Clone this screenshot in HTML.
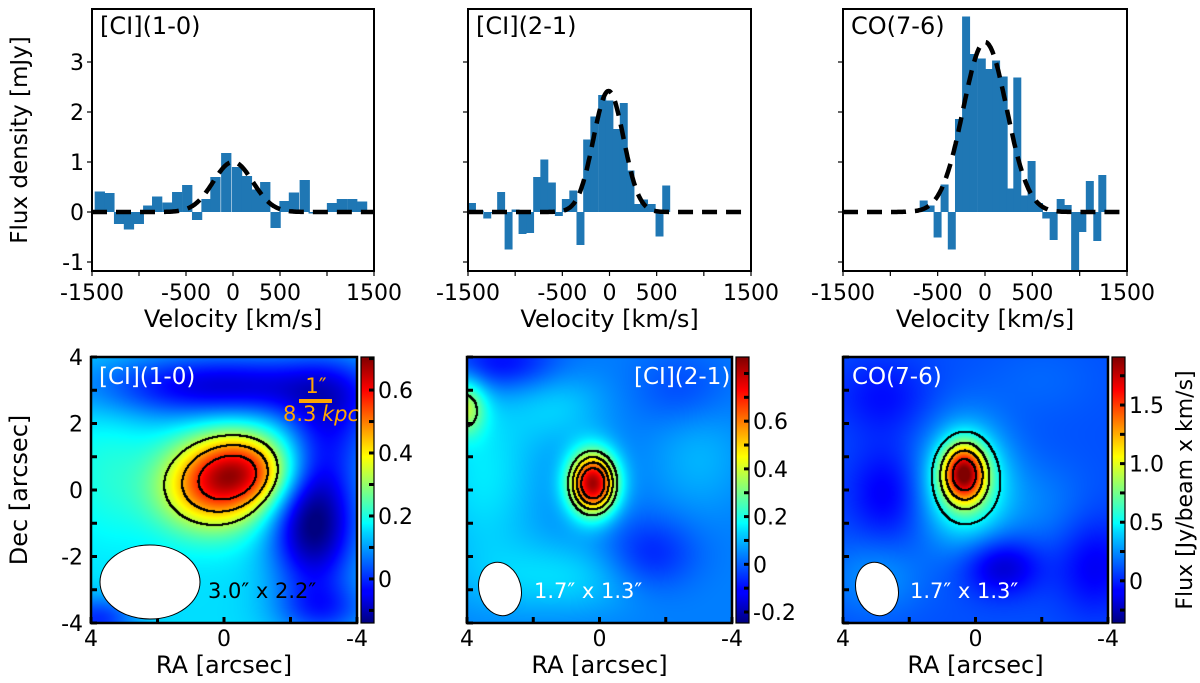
<!DOCTYPE html>
<html><head><meta charset="utf-8">
<style>
html,body{margin:0;padding:0;background:#fff;}
#wrap{position:relative;width:1200px;height:683px;overflow:hidden;font-family:"DejaVu Sans","Liberation Sans",sans-serif;}
canvas{position:absolute;}
svg{position:absolute;left:0;top:0;}
</style></head>
<body>
<div id="wrap">
<canvas id="m1" width="266" height="266" style="left:91px;top:357px"></canvas>
<canvas id="m2" width="265" height="266" style="left:467px;top:357px"></canvas>
<canvas id="m3" width="265" height="266" style="left:843px;top:357px"></canvas>
<svg id="svg" width="1200" height="683" xmlns="http://www.w3.org/2000/svg">
<defs>
<linearGradient id="jet" x1="0" y1="1" x2="0" y2="0">
<stop offset="0" stop-color="#00007f"/><stop offset="0.11" stop-color="#0000ff"/><stop offset="0.125" stop-color="#0000ff"/>
<stop offset="0.34" stop-color="#00d4ff"/><stop offset="0.375" stop-color="#0ff"/><stop offset="0.5" stop-color="#7fff7f"/>
<stop offset="0.625" stop-color="#ff0"/><stop offset="0.66" stop-color="#ffe000"/><stop offset="0.875" stop-color="#f00"/><stop offset="1" stop-color="#7f0000"/>
</linearGradient>
</defs>
</svg>
</div>
<script>
// ---------- spectra data ----------
const ci10Vel = [-1420,-1318,-1215,-1110,-1005,-905,-810,-700,-597,-490,-385,-285,-190,-75,40,145,245,340,450,545,645,760,855,945,1050,1155,1265,1370,1460];
const ci10Flux = [0.41,0.38,-0.24,-0.35,-0.24,0.13,0.31,0.19,0.4,0.54,-0.16,0.26,0.7,1.18,0.9,0.72,0.45,0.6,-0.32,0.22,0.39,0.64,-0.03,-0.03,0.18,0.26,0.26,0.21,0.0];
const ci21Vel = [-1461,-1378,-1299,-1228,-1152,-1073,-999,-925,-845,-770,-694,-614,-540,-466,-387,-311,-240,-164,-81,-4,72,148,219,289,363,444,527,598];
const ci21Flux = [0.18,0.03,-0.13,0,0.4,-0.75,0.05,-0.44,-0.42,0.7,1.05,0.59,-0.08,0.26,0.43,-0.66,1.45,1.91,2.34,2.23,1.66,2.18,0.83,0.16,0.25,0.16,-0.49,0.53];
const co76Vel = [-651,-578,-504,-430,-354,-278,-203,-120,-37,39,114,194,264,338,415,489,567,644,722,796,870,949,1025,1104,1183,1236];
const co76Flux = [0.23,0.13,-0.51,0.55,-0.75,1.86,3.91,3.16,3.07,2.86,3.03,2.71,0.47,2.69,0.33,1.02,0.18,-0.13,-0.56,0.26,0.14,-1.16,-0.4,0.62,-0.58,0.74];
const fitAmp = [1.0, 2.42, 3.4];
const fitCen = [0, -10, 0];
const fitSig = [210, 160, 230];
const velTicks = [-1500,-1000,-500,0,500,1000,1500];
const velTickLabels = ["-1500","","-500","0","500","","1500"];
const fluxTicks = [-1,0,1,2,3];
const lineNames = ["[CI](1-0)","[CI](2-1)","CO(7-6)"];

// ---------- map data: gaussian components [ra, dec, sigRA, sigDec, angleDeg, amp] ----------
const map1Base = 0.15;
const map1Comps = [[0.1,0.3,1.2,0.95,-15,0.47],[-1.0,0.6,0.9,0.7,0,0.14],[0.0,3.1,2.8,0.7,0,-0.22],[-2.7,-1.0,0.9,1.4,0,-0.3],[-3.2,2.2,1.0,1.2,0,-0.15],[3.8,-3.9,0.8,0.5,0,-0.15],[3.5,0.5,1.0,1.5,0,0.05],[-3.0,-3.6,1.0,0.6,0,-0.12]];
const map2Base = 0.03;
const map2Comps = [[0.2,0.2,0.5,0.65,0,0.8],[3.0,3.8,1.2,0.6,0,-0.15],[3.5,0.5,1.2,2.0,0,0.12],[1.0,-2.6,2.0,0.8,0,0.1],[-1.5,-2.0,1.0,0.8,0,-0.12],[1.2,2.5,1.0,0.8,0,0.08],[-3.0,1.0,1.0,1.2,0,0.06],[4.1,2.5,0.45,0.6,0,0.3],[-2.5,3.0,1.0,0.8,0,-0.06]];
const map3Base = 0.1;
const map3Comps = [[0.35,0.5,0.45,0.6,0,1.3],[0.3,0.2,0.9,1.2,0,0.6],[-0.8,-2.3,0.8,0.6,0,-0.3],[2.7,-0.1,0.8,1.0,0,-0.2],[2.8,2.8,1.0,0.8,0,-0.15],[-2.0,-0.5,1.0,1.0,0,0.1],[3.0,-2.6,1.0,0.8,0,0.15],[-3.6,-2.3,0.8,1.0,0,-0.2],[-2.0,3.3,1.2,0.8,0,0.05]];
const mapRange = [[-0.14,0.705],[-0.246,0.869],[-0.36,1.91]];
const mapLevels = [[0.33,0.45,0.57],[0.3,0.42,0.54,0.66],[0.5,0.85,1.2,1.6]];
const cbTicks = [[0,0.2,0.4,0.6],[-0.2,0,0.2,0.4,0.6],[0,0.5,1.0,1.5]];
const cbTickLabels = [["0","0.2","0.4","0.6"],["-0.2","0","0.2","0.4","0.6"],["0","0.5","1.0","1.5"]];
const cbMinorStep = [0.1,0.1,0.25];

const NS="http://www.w3.org/2000/svg";
const svg=document.getElementById('svg');
function el(tag,attrs,parent){const e=document.createElementNS(NS,tag);for(const k in attrs)e.setAttribute(k,attrs[k]);(parent||svg).appendChild(e);return e;}
function txt(s,x,y,attrs,parent){const t=el('text',Object.assign({x:x,y:y,'font-size':22,fill:'#000'},attrs||{}),parent);t.textContent=s;return t;}

// ---------- spectra ----------
const panelsX=[[92,374],[468,751],[843,1127]];
const pTop=9,pBot=271,yMin=-1.18,yMax=4.06;
const vels=[ci10Vel,ci21Vel,co76Vel], fluxes=[ci10Flux,ci21Flux,co76Flux], widths=[103,78,78];
for(let p=0;p<3;p++){
  const [x0,x1]=panelsX[p];
  const X=v=>x0+(v+1500)/3000*(x1-x0);
  const Y=f=>pBot-(f-yMin)/(yMax-yMin)*(pBot-pTop);
  const g=el('g',{});
  
  
  const clip=el('clipPath',{id:'cp'+p},g);el('rect',{x:x0,y:pTop,width:x1-x0,height:pBot-pTop},clip);
  const bars=el('g',{'clip-path':'url(#cp'+p+')'},g);
  for(let i=0;i<vels[p].length;i++){
    const a=X(vels[p][i]-widths[p]/2),b=X(vels[p][i]+widths[p]/2);
    const y0=Y(0),y1=Y(fluxes[p][i]);
    const r=el('rect',{x:a,y:Math.min(y0,y1),width:b-a+0.6,height:Math.max(1.2,Math.abs(y1-y0)),fill:'#1f77b4'},bars);
    
    
  }
  let d='';
  for(let v=-1500;v<=1500;v+=10){const f=fitAmp[p]*Math.exp(-Math.pow(v-fitCen[p],2)/(2*fitSig[p]*fitSig[p]));d+=(v==-1500?'M':'L')+X(v).toFixed(1)+','+Y(f).toFixed(1);}
  const fl=el('path',{d:d,fill:'none',stroke:'#000','stroke-width':4.5,'stroke-dasharray':'15,9'},bars);
  
  
  el('rect',{x:x0,y:pTop,width:x1-x0,height:pBot-pTop,fill:'none',stroke:'#000','stroke-width':2},g);
  velTicks.forEach((v,i)=>{el('line',{x1:X(v),x2:X(v),y1:pBot,y2:pBot+5,stroke:'#000','stroke-width':1.2},g);
    if(velTickLabels[i]){const t=txt(velTickLabels[i],X(v),300,{'text-anchor':'middle'},g);}});
  fluxTicks.forEach(f=>{el('line',{x1:x0-5,x2:x0,y1:Y(f),y2:Y(f),stroke:'#000','stroke-width':1.2},g);
    if(p==0){const t=txt(String(f),x0-8,Y(f)+8,{'text-anchor':'end'},g);}});
  const lt=txt(lineNames[p],x0+8,34,{'font-size':24},g);
  
  const xt=txt('Velocity [km/s]',(x0+x1)/2,327,{'text-anchor':'middle','font-size':24},g);
  
}
const yt=txt('Flux density [mJy]',0,0,{'text-anchor':'middle','font-size':23,transform:'translate(27,140) rotate(-90)'});


// ---------- maps ----------
function jet(t){t=Math.max(0,Math.min(1,t));const c=x=>Math.max(0,Math.min(1,x));
  return [c(1.5-Math.abs(4*t-3))*255,c(1.5-Math.abs(4*t-2))*255,c(1.5-Math.abs(4*t-1))*255];}
const bases=[map1Base,map2Base,map3Base], comps=[map1Comps,map2Comps,map3Comps];
function field(m,ra,dec){let f=bases[m];for(const c of comps[m]){const th=c[4]*Math.PI/180;const dx=ra-c[0],dy=dec-c[1];
  const u=dx*Math.cos(th)+dy*Math.sin(th),w=-dx*Math.sin(th)+dy*Math.cos(th);f+=c[5]*Math.exp(-(u*u/(2*c[2]*c[2])+w*w/(2*c[3]*c[3])));}return f;}
const mapX=[[91,357],[467,732],[843,1108]],mT=357,mB=623;
['m1','m2','m3'].forEach((id,m)=>{
  const cv=document.getElementById(id),ctx=cv.getContext('2d'),W=cv.width,H=cv.height;
  const img=ctx.createImageData(W,H);const F=new Float32Array(W*H);
  for(let j=0;j<H;j++)for(let i=0;i<W;i++){const ra=4-8*(i+0.5)/W,dec=4-8*(j+0.5)/H;F[j*W+i]=field(m,ra,dec);}
  const [lo,hi]=mapRange[m];
  for(let k=0;k<W*H;k++){const c=jet((F[k]-lo)/(hi-lo));img.data[4*k]=c[0];img.data[4*k+1]=c[1];img.data[4*k+2]=c[2];img.data[4*k+3]=255;}
  for(const L of mapLevels[m])for(let j=0;j<H-1;j++)for(let i=0;i<W-1;i++){const a=F[j*W+i]-L,b=F[j*W+i+1]-L,c=F[(j+1)*W+i]-L;
    if(a*b<=0&&a!==b||a*c<=0&&a!==c){for(const k of [j*W+i,j*W+i+1,(j+1)*W+i,(j+1)*W+i+1]){img.data[4*k]=0;img.data[4*k+1]=0;img.data[4*k+2]=0;}}}
  ctx.putImageData(img,0,0);
  const [x0,x1]=mapX[m];
  const g=el('g',{});
  
  
  el('rect',{x:x0,y:mT,width:x1-x0,height:mB-mT,fill:'none',stroke:'#000','stroke-width':2.5},g);
  const sx=a=>x0+(4-a)/8*(x1-x0), sy=d=>mT+(4-d)/8*(mB-mT);
  for(let d=-4;d<=4;d++){el('line',{x1:x0,x2:x0+6,y1:sy(d),y2:sy(d),stroke:'#000','stroke-width':3},g);}
  for(let a=-4;a<=4;a+=2){el('line',{x1:sx(a),x2:sx(a),y1:mB,y2:mB-6,stroke:'#000','stroke-width':3},g);}
  ['4','0','-4'].forEach(s=>{const t=txt(s,sx(+s),646,{'text-anchor':'middle'},g);});
  const rt=txt('RA [arcsec]',(x0+x1)/2,673,{'text-anchor':'middle','font-size':24},g);
  
  if(m==0){[4,2,0,-2,-4].forEach(d=>{const t=txt(String(d),x0-8,sy(d)+8,{'text-anchor':'end'},g);});}
  // colorbar
  const cx0=x1+4,cw=13;
  const cb=el('rect',{x:cx0,y:mT,width:cw,height:mB-mT,fill:'url(#jet)',stroke:'#000','stroke-width':1.2},g);
  
  const cy=v=>mB-(v-lo)/(hi-lo)*(mB-mT);
  for(let v=Math.ceil(lo/cbMinorStep[m])*cbMinorStep[m];v<=hi;v+=cbMinorStep[m]){el('line',{x1:cx0+cw-5,x2:cx0+cw,y1:cy(v),y2:cy(v),stroke:'#000','stroke-width':3},g);}
  cbTicks[m].forEach((v,i)=>{const t=txt(cbTickLabels[m][i],cx0+cw+4,cy(v)+8,{},g);});
});
const dt=txt('Dec [arcsec]',0,0,{'text-anchor':'middle','font-size':24,transform:'translate(27,490) rotate(-90)'});

const ct=txt('Flux [Jy/beam x km/s]',0,0,{'text-anchor':'middle','font-size':22,transform:'translate(1192,490) rotate(-90)'});


// map annotations
const b1=el('ellipse',{cx:150,cy:582,rx:50,ry:37,fill:'#fff',stroke:'#000','stroke-width':1});

const b2=el('ellipse',{cx:500,cy:589,rx:21,ry:27,fill:'#fff',stroke:'#000','stroke-width':1,transform:'rotate(-15 500 589)'});

const b3=el('ellipse',{cx:877,cy:589,rx:21,ry:27,fill:'#fff',stroke:'#000','stroke-width':1,transform:'rotate(-15 877 589)'});

let t;
t=txt('3.0″ x 2.2″',208,598,{'font-size':21});
t=txt('1.7″ x 1.3″',534,598,{fill:'#fff','font-size':21});
t=txt('1.7″ x 1.3″',910,598,{fill:'#fff','font-size':21});
t=txt('[CI](1-0)',99,384,{fill:'#fff','font-size':23});
t=txt('[CI](2-1)',634,384,{fill:'#fff','font-size':23});
t=txt('CO(7-6)',852,384,{fill:'#fff','font-size':23});
const sb=el('line',{x1:299,x2:332,y1:401,y2:401,stroke:'#ffa500','stroke-width':4});

t=txt('1″',316,393,{fill:'#ffa500','text-anchor':'middle','font-size':21});
t=txt('8.3',283,421,{fill:'#ffa500','font-size':21});
t=txt('kpc',322,421,{fill:'#ffa500','font-style':'italic','font-size':21});
</script>
</body></html>
